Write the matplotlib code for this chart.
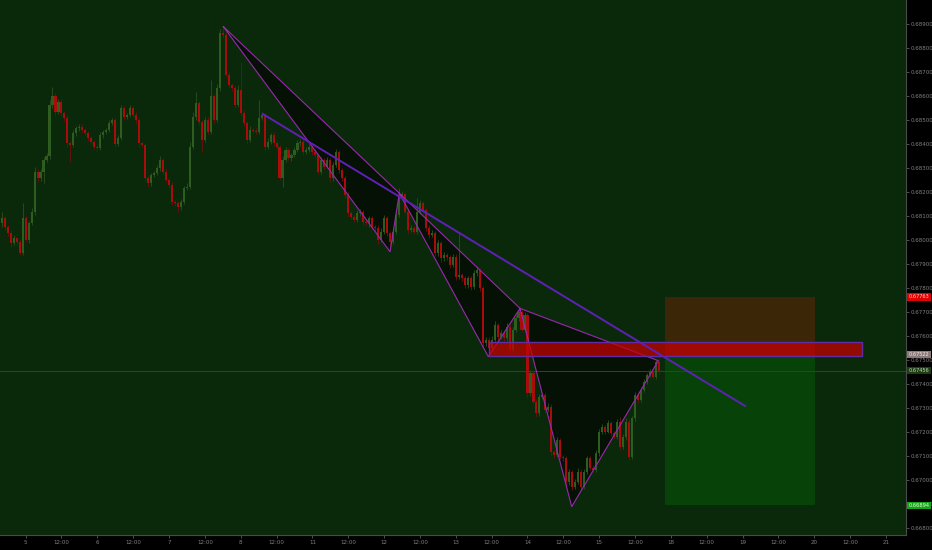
import matplotlib.pyplot as plt
import matplotlib.ticker as mticker
from matplotlib.patches import Rectangle, Polygon
import numpy as np

# --- Data: hourly candles, prices in 1e-5 units (0.68090 -> 68090) ---
first_open = 68070
close = [
    68090, 68053, 68028, 67986, 68007, 67993, 67945, 68090, 68000, 68070,
    68118, 68285, 68257, 68285, 68334, 68348, 68563, 68598, 68535, 68577,
    68528, 68507, 68403, 68396, 68445, 68465, 68472, 68459, 68445, 68424,
    68410, 68389, 68382, 68438, 68452, 68459, 68486, 68500, 68400, 68424,
    68549, 68514, 68521, 68549, 68521, 68500, 68403, 68396, 68257, 68236,
    68271, 68278, 68299, 68334, 68285, 68250, 68229, 68160, 68153, 68139,
    68160, 68215, 68222, 68389, 68514, 68570, 68493, 68417, 68500, 68452,
    68598, 68500, 68632, 68861, 68854, 68688, 68646, 68632, 68563, 68625,
    68528, 68486, 68417, 68459, 68455, 68452, 68507, 68521, 68389, 68410,
    68438, 68403, 68389, 68257, 68334, 68375, 68341, 68354, 68375, 68403,
    68410, 68368, 68375, 68389, 68368, 68354, 68285, 68333, 68306, 68333,
    68257, 68312, 68368, 68292, 68257, 68187, 68111, 68097, 68083, 68111,
    68118, 68076, 68070, 68090, 68055, 68049, 68000, 68035, 68090, 68028,
    67993, 68035, 68104, 68180, 68190, 68118, 68042, 68049, 68035, 68118,
    68153, 68125, 68049, 68021, 68028, 67944, 67986, 67923, 67937, 67930,
    67896, 67930, 67847, 67854, 67840, 67812, 67840, 67805, 67861, 67875,
    67799, 67569, 67584, 67549, 67584, 67646, 67597, 67611, 67590, 67639,
    67542, 67625, 67674, 67702, 67625, 67688, 67361, 67445, 67327, 67278,
    67347, 67354, 67292, 67306, 67118, 67104, 67167, 67097, 67090, 66993,
    67035, 66972, 66993, 67035, 66972, 67035, 67090, 67049, 67042, 67111,
    67202, 67222, 67202, 67236, 67195, 67181, 67243, 67139, 67181, 67243,
    67097, 67257, 67354, 67334, 67375, 67410, 67438, 67452, 67431, 67493,
    67456,
]
wick_up = [
    28, 10, 8, 12, 14, 6, 10, 63, 12, 9,
    14, 18, 10, 12, 13, 16, 20, 41, 14, 11,
    12, 9, 15, 10, 14, 8, 12, 10, 7, 9,
    11, 8, 10, 12, 7, 9, 14, 10, 8, 12,
    14, 10, 9, 15, 8, 12, 10, 7, 9, 11,
    10, 8, 12, 14, 9, 10, 8, 12, 7, 9,
    10, 12, 14, 18, 20, 48, 10, 9, 14, 12,
    69, 10, 16, 20, 28, 12, 10, 8, 14, 20,
    118, 12, 9, 14, 8, 10, 77, 12, 10, 14,
    9, 12, 10, 8, 14, 12, 10, 9, 12, 14,
    12, 10, 14, 9, 8, 12, 10, 14, 9, 12,
    10, 14, 12, 9, 8, 10, 12, 8, 9, 14,
    10, 8, 12, 9, 10, 8, 12, 14, 16, 10,
    8, 12, 14, 36, 14, 10, 8, 12, 9, 55,
    14, 10, 8, 12, 14, 10, 12, 8, 14, 10,
    9, 12, 10, 181, 8, 10, 12, 9, 14, 16,
    10, 8, 12, 10, 14, 18, 10, 12, 9, 14,
    10, 12, 14, 14, 7, 10, 8, 14, 10, 9,
    12, 10, 8, 14, 10, 9, 12, 10, 8, 9,
    12, 8, 10, 14, 9, 12, 10, 8, 12, 14,
    10, 12, 9, 14, 10, 8, 12, 21, 10, 14,
    12, 10, 14, 8, 12, 10, 9, 12, 10, 8,
    14,
]
wick_dn = [
    14, 10, 12, 16, 8, 12, 7, 7, 10, 12,
    9, 12, 14, 10, 49, 8, 10, 12, 14, 9,
    10, 12, 14, 69, 8, 10, 9, 12, 8, 10,
    12, 9, 10, 8, 12, 10, 9, 8, 14, 10,
    8, 12, 10, 9, 10, 12, 14, 10, 12, 14,
    10, 8, 9, 12, 10, 8, 12, 14, 10, 21,
    12, 10, 8, 9, 10, 12, 14, 49, 10, 12,
    10, 14, 9, 10, 12, 8, 10, 12, 14, 10,
    12, 9, 14, 10, 8, 12, 10, 9, 14, 10,
    8, 12, 10, 9, 35, 10, 8, 12, 9, 10,
    10, 12, 9, 8, 14, 10, 12, 9, 10, 8,
    14, 10, 9, 12, 10, 14, 12, 10, 9, 8,
    10, 12, 9, 14, 10, 12, 16, 10, 9, 12,
    20, 10, 9, 8, 12, 10, 14, 9, 12, 10,
    8, 12, 10, 14, 9, 12, 10, 14, 10, 12,
    12, 10, 14, 9, 12, 14, 10, 12, 9, 10,
    12, 14, 10, 21, 12, 9, 14, 10, 12, 9,
    14, 10, 9, 12, 10, 8, 14, 10, 12, 14,
    10, 9, 12, 10, 14, 12, 10, 9, 12, 14,
    12, 13, 10, 9, 14, 10, 12, 9, 10, 8,
    10, 12, 9, 8, 12, 10, 9, 12, 10, 14,
    12, 9, 10, 12, 8, 10, 12, 9, 10, 12,
    14,
]

# pattern pivots (bar index, price)
pattern_idx = [74.2, 130.0, 133.1, 162.9, 173.5, 190.8, 219.8]
pattern_px = [0.68889, 0.67951, 0.68195, 0.67514, 0.67715, 0.66889, 0.67497]
trend_idx = [87.4, 248.9]
trend_px = [0.68525, 0.67308]
zone_idx = [163.1, 287.9]
zone_px = [0.67517, 0.67575]
pos_idx = [222.0, 272.2]
pos_target, pos_entry, pos_stop = 0.66894, 0.67522, 0.67763
last_price = 0.67456

day_labels = ['5', '6', '7', '8', '11', '12', '13', '14', '15', '18', '19', '20', '21']
first_day_bar = 8
bars_per_day = 24

# --- Prepare candles ---
c = np.array(close) / 1e5
o = np.concatenate([[first_open / 1e5], c[:-1]])
hi = np.maximum(o, c) + np.array(wick_up) / 1e5
lo = np.minimum(o, c) - np.array(wick_dn) / 1e5
x = np.arange(len(c))
up = c >= o

bg = '#0a290b'
up_body, dn_body = '#2f5c1f', '#aa0c0c'
up_wick, dn_wick = '#28491b', '#5e140f'

fig = plt.figure(figsize=(9.32, 5.5), dpi=100, facecolor='black')
ax = fig.add_axes([0, 15 / 550, 906 / 932, 535 / 550])
ax.set_facecolor(bg)

# --- pattern fills (behind candles) ---
tri_fill = '#041104'
for k in (0, 2, 4):
    pts = list(zip(pattern_idx[k:k + 3], pattern_px[k:k + 3]))
    ax.add_patch(Polygon(pts, closed=True, fc=tri_fill, ec='none', zorder=1))

# --- candles ---
ax.vlines(x, lo, hi, colors=np.where(up, up_wick, dn_wick), linewidth=0.7, zorder=2)
ax.bar(x, np.maximum(np.abs(c - o), 0.000015), bottom=np.minimum(o, c), width=0.7,
       color=np.where(up, up_body, dn_body), linewidth=0, zorder=3)

# --- position tool ---
ax.add_patch(Rectangle((pos_idx[0], pos_entry), pos_idx[1] - pos_idx[0], pos_stop - pos_entry,
                       fc='#3b2608', ec='none', zorder=1))
ax.add_patch(Rectangle((pos_idx[0], pos_target), pos_idx[1] - pos_idx[0], pos_entry - pos_target,
                       fc='#074209', ec='none', zorder=1))

# --- last price line ---
ax.axhline(last_price, color='#2c4a1c', linewidth=0.7, zorder=1.5)

# --- pattern outlines ---
pat_color = '#9c27b0'
for k in (0, 2, 4):
    xs = pattern_idx[k:k + 3] + [pattern_idx[k]]
    ys = pattern_px[k:k + 3] + [pattern_px[k]]
    ax.plot(xs, ys, color=pat_color, linewidth=0.8, zorder=4)

# --- supply zone ---
ax.add_patch(Rectangle((zone_idx[0], zone_px[0]), zone_idx[1] - zone_idx[0], zone_px[1] - zone_px[0],
                       fc=(0.78, 0.0, 0.0, 0.72), ec='#5e2ca5', linewidth=1.0, zorder=5))

# --- trend line ---
ax.plot(trend_idx, trend_px, color='#6020b8', linewidth=1.4, zorder=6)

# --- axes ---
ax.set_xlim(-0.57, 302.7)
ax.set_ylim(0.667708, 0.690)

ax.yaxis.tick_right()
ax.set_yticks(np.arange(0.668, 0.6895, 0.001))
ax.yaxis.set_major_formatter(mticker.FormatStrFormatter('%.5f'))

ticks, labels = [], []
for d, lab in enumerate(day_labels):
    ticks.append(first_day_bar + d * bars_per_day)
    labels.append(lab)
    if d < len(day_labels) - 1:
        ticks.append(first_day_bar + d * bars_per_day + bars_per_day // 2)
        labels.append('12:00')
ax.set_xticks(ticks)
ax.set_xticklabels(labels)

ax.tick_params(axis='both', colors='#5a5a5a', labelcolor='#808080', labelsize=4,
               length=2, width=0.6, pad=1.5)
for side in ('top', 'left'):
    ax.spines[side].set_visible(False)
for side in ('right', 'bottom'):
    ax.spines[side].set_color('#4a4a4a')
    ax.spines[side].set_linewidth(0.8)

# --- price tags on the axis ---
tags = [
    (pos_stop, '#e00000', '#ffd0d0'),
    (pos_entry, '#8c7a78', '#f0eaea'),
    (last_price, '#1d3d13', '#c8d8c0'),
    (pos_target, '#17a317', '#e8ffe8'),
]
ytr = ax.get_yaxis_transform()
for price, fc, tc in tags:
    ax.text(1.003, price, '%.5f' % price, transform=ytr, fontsize=3.6, color=tc,
            ha='left', va='center', clip_on=False, zorder=10,
            bbox=dict(boxstyle='square,pad=0.25', fc=fc, ec='none'))

plt.savefig('out.png', dpi=100, facecolor='black')
